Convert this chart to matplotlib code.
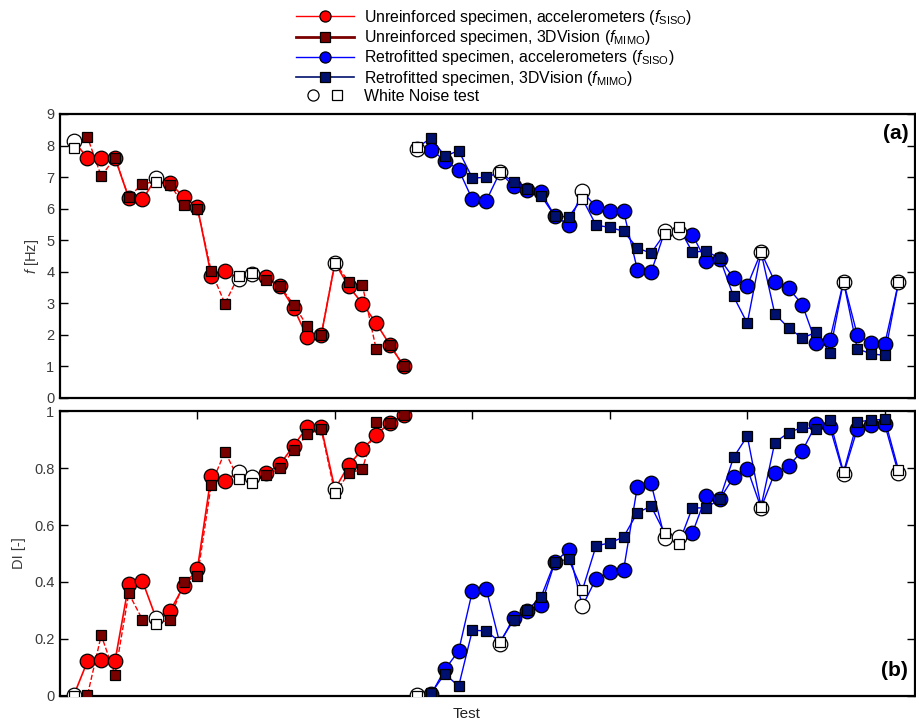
import matplotlib
matplotlib.use("Agg")
import matplotlib.pyplot as plt
import numpy as np
from matplotlib.lines import Line2D
from matplotlib.legend_handler import HandlerTuple

plt.rcParams["font.family"] = ["Liberation Sans", "DejaVu Sans"]
plt.rcParams["mathtext.fontset"] = "custom"
plt.rcParams["mathtext.rm"] = "Liberation Sans"
plt.rcParams["mathtext.it"] = "Liberation Sans:italic"

# Datos (test 1..61; 1-25 unreinforced, 26-61 retrofitted)
test_unr = list(range(1, 26))
test_ret = list(range(26, 62))
white_noise = [1, 7, 13, 14, 20, 26, 32, 38, 44, 45, 51, 57, 61]

f_unr_acc = [8.14, 7.61, 7.59, 7.61, 6.34, 6.29, 6.97, 6.81, 6.37, 6.04,
             3.88, 4.02, 3.77, 3.94, 3.82, 3.54, 2.85, 1.92, 1.98, 4.28,
             3.54, 2.99, 2.37, 1.68, 1.01]
f_unr_3dv = [7.92, 8.26, 7.03, 7.61, 6.36, 6.79, 6.85, 6.76, 6.13, 6.00,
             4.02, 2.99, 3.88, 3.96, 3.75, 3.54, 2.96, 2.27, 1.98, 4.28,
             3.69, 3.57, 1.55, 1.68, 1.01]
f_ret_acc = [7.89, 7.87, 7.52, 7.24, 6.29, 6.24, 7.15, 6.71, 6.60, 6.52,
             5.76, 5.49, 6.55, 6.05, 5.94, 5.92, 4.07, 3.98, 5.28, 5.25,
             5.18, 4.33, 4.41, 3.80, 3.56, 4.62, 3.69, 3.48, 2.96, 1.74,
             1.84, 3.69, 2.00, 1.74, 1.71, 3.66]
f_ret_3dv = [7.94, 8.24, 7.66, 7.84, 6.97, 6.99, 7.15, 6.84, 6.62, 6.41,
             5.76, 5.74, 6.32, 5.47, 5.41, 5.28, 4.75, 4.59, 5.21, 5.42,
             4.63, 4.65, 4.43, 3.22, 2.37, 4.62, 2.67, 2.22, 1.90, 2.08,
             1.44, 3.69, 1.56, 1.40, 1.35, 3.66]

di_unr_acc = [0.002, 0.122, 0.128, 0.122, 0.392, 0.403, 0.272, 0.298, 0.385, 0.447,
              0.773, 0.755, 0.787, 0.767, 0.781, 0.813, 0.878, 0.945, 0.943, 0.726,
              0.810, 0.865, 0.916, 0.959, 0.986]
di_unr_3dv = [0.0, 0.003, 0.213, 0.075, 0.360, 0.268, 0.254, 0.268, 0.400, 0.420,
              0.742, 0.857, 0.761, 0.749, 0.775, 0.799, 0.863, 0.918, 0.937, 0.711,
              0.781, 0.796, 0.962, 0.957, 0.986]
di_ret_acc = [0.002, 0.006, 0.093, 0.158, 0.368, 0.377, 0.184, 0.275, 0.298, 0.319,
              0.469, 0.514, 0.315, 0.412, 0.436, 0.442, 0.734, 0.746, 0.553, 0.559,
              0.571, 0.701, 0.691, 0.767, 0.798, 0.660, 0.783, 0.807, 0.860, 0.953,
              0.945, 0.779, 0.936, 0.951, 0.953, 0.781]
di_ret_3dv = [0.0, 0.010, 0.078, 0.034, 0.231, 0.228, 0.190, 0.266, 0.301, 0.348,
              0.471, 0.480, 0.371, 0.527, 0.537, 0.558, 0.643, 0.666, 0.571, 0.533,
              0.660, 0.660, 0.691, 0.837, 0.912, 0.664, 0.889, 0.924, 0.943, 0.936,
              0.968, 0.785, 0.962, 0.968, 0.971, 0.793]

RED = '#ff0000'
DRED = '#7a0000'
BLUE = '#0000ff'
NAVY = '#00106e'


def serie(ax, x, y, marker, fc, lc, ls, ms, lw):
    x = np.array(x)
    y = np.array(y)
    wn = np.isin(x, white_noise)
    ax.plot(x, y, linestyle=ls, color=lc, linewidth=lw, zorder=2)
    ax.plot(x[~wn], y[~wn], linestyle='', marker=marker, markersize=ms,
            markerfacecolor=fc, markeredgecolor='black', markeredgewidth=0.9, zorder=3)
    ax.plot(x[wn], y[wn], linestyle='', marker=marker, markersize=ms,
            markerfacecolor='white', markeredgecolor='black', markeredgewidth=0.9, zorder=3)


fig = plt.figure(figsize=(9.16, 7.24), dpi=100)
ax1 = fig.add_axes([0.0655, 0.4503, 0.9334, 0.3923])
ax2 = fig.add_axes([0.0655, 0.0387, 0.9334, 0.3936])

for ax, (ua, u3, ra, r3) in zip([ax1, ax2], [(f_unr_acc, f_unr_3dv, f_ret_acc, f_ret_3dv),
                                          (di_unr_acc, di_unr_3dv, di_ret_acc, di_ret_3dv)]):
    serie(ax, test_unr, ua, 'o', RED, RED, '-', 10.5, 1.2)
    serie(ax, test_unr, u3, 's', DRED, RED, '--', 7, 1.0)
    serie(ax, test_ret, ra, 'o', BLUE, BLUE, '-', 10.5, 1.0)
    serie(ax, test_ret, r3, 's', NAVY, BLUE, '-', 7, 1.0)
    ax.set_xlim(0, 62.2)
    for s in ax.spines.values():
        s.set_linewidth(1.6)
    ax.tick_params(axis='y', direction='in', left=True, right=True, length=6,
                   width=1, labelsize=10.5, labelcolor='#3a3a3a', pad=4)

# configurar ejes
ax1.set_ylim(0, 9)
ax1.set_yticks(range(0, 10))
ax1.set_xticks([])
ax1.set_ylabel(r'$\it{f}$ [Hz]', fontsize=10.5, labelpad=4, color='#3a3a3a')
ax1.text(0.992, 0.93, '(a)', transform=ax1.transAxes, ha='right', va='center',
         fontsize=15, fontweight='bold')

ax2.set_ylim(0, 1)
ax2.set_yticks([0, 0.2, 0.4, 0.6, 0.8, 1.0])
ax2.set_yticklabels(['0', '0.2', '0.4', '0.6', '0.8', '1'])
ax2.set_xticks([10, 20, 30, 40, 50, 60])
ax2.tick_params(axis='x', direction='in', top=True, bottom=False, labeltop=False,
                labelbottom=False, length=6, width=1)
ax2.set_ylabel('DI [-]', fontsize=10.5, labelpad=6, color='#3a3a3a')
ax2.set_xlabel('Test', fontsize=11, labelpad=8, x=0.476, color='#222222')
ax2.text(0.992, 0.09, '(b)', transform=ax2.transAxes, ha='right', va='center',
         fontsize=15, fontweight='bold')

# leyenda
h1 = Line2D([], [], color=RED, lw=1, marker='o', ms=8, mfc=RED, mec='black', mew=0.9)
h2 = Line2D([], [], color=DRED, lw=2, marker='s', ms=7, mfc=DRED, mec='black', mew=0.9)
h3 = Line2D([], [], color=BLUE, lw=1, marker='o', ms=8, mfc=BLUE, mec='black', mew=0.9)
h4 = Line2D([], [], color=NAVY, lw=1.2, marker='s', ms=7, mfc=NAVY, mec='black', mew=0.9)
hw1 = Line2D([], [], ls='', marker='o', ms=8, mfc='white', mec='black', mew=0.9)
hw2 = Line2D([], [], ls='', marker='s', ms=7, mfc='white', mec='black', mew=0.9)
labels = [r'Unreinforced specimen, accelerometers ($\it{f}_{\rm SISO}$)',
          r'Unreinforced specimen, 3DVision ($\it{f}_{\rm MIMO}$)',
          r'Retrofitted specimen, accelerometers ($\it{f}_{\rm SISO}$)',
          r'Retrofitted specimen, 3DVision ($\it{f}_{\rm MIMO}$)',
          'White Noise test']
fig.legend([h1, h2, h3, h4, (hw1, hw2)], labels, loc='upper left',
           bbox_to_anchor=(0.323, 0.989), frameon=False, fontsize=11.4,
           handlelength=3.7, handletextpad=0.62, borderpad=0, borderaxespad=0,
           labelspacing=0.08,
           handler_map={tuple: HandlerTuple(ndivide=None, pad=-0.64)})

# Guardar la gráfica
plt.savefig('out.png', dpi=100)
